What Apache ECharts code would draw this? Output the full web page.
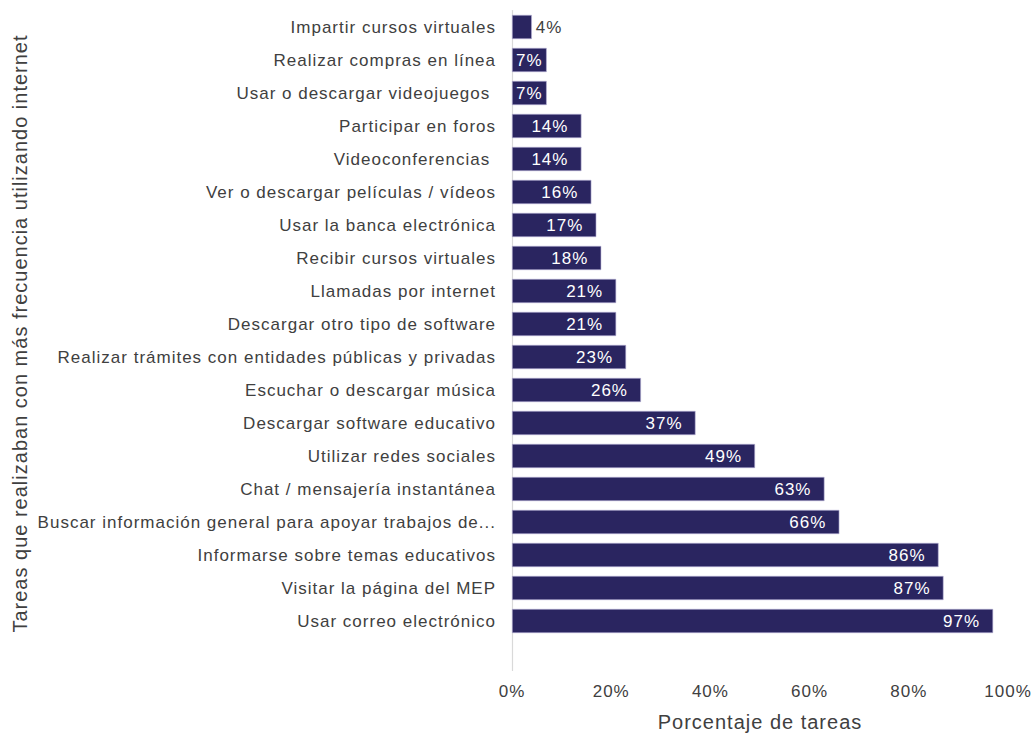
<!DOCTYPE html>
<html>
<head>
<meta charset="utf-8">
<script src="https://cdn.jsdelivr.net/npm/echarts@6/dist/echarts.min.js"></script>
<style>
  html, body { margin: 0; padding: 0; background: #ffffff; }
  #chart { width: 1031px; height: 734px; }
  /* slightly looser tracking for all chart text */
  #chart text { letter-spacing: 1px; }
</style>
</head>
<body>
<div id="chart"></div>
<script>
// Tasks most often done on the internet, top to bottom
const categories = [
  'Impartir cursos virtuales',
  'Realizar compras en línea',
  'Usar o descargar videojuegos ',
  'Participar en foros',
  'Videoconferencias ',
  'Ver o descargar películas / vídeos',
  'Usar la banca electrónica',
  'Recibir cursos virtuales',
  'Llamadas por internet',
  'Descargar otro tipo de software',
  'Realizar trámites con entidades públicas y privadas',
  'Escuchar o descargar música',
  'Descargar software educativo',
  'Utilizar redes sociales',
  'Chat / mensajería instantánea',
  'Buscar información general para apoyar trabajos de clase',
  'Informarse sobre temas educativos',
  'Visitar la página del MEP',
  'Usar correo electrónico'
];

// Percentage of tasks
const values = [4, 7, 7, 14, 14, 16, 17, 18, 21, 21, 23, 26, 37, 49, 63, 66, 86, 87, 97];

const xTicks = [0, 20, 40, 60, 80, 100];

const FONT = '"Liberation Sans", Arial, sans-serif';
const TEXT = '#404040';
const barColor = '#2a2560';

const chart = echarts.init(document.getElementById('chart'), null, { renderer: 'svg' });

// very short bars: label beside the bar; short bars: centred; otherwise right-aligned inside
const seriesData = values.map(function (v) {
  const item = { value: v };
  if (v < 5) {
    item.label = { position: 'right', color: TEXT, distance: 4 };
  } else if (v < 10) {
    item.label = { position: 'inside' };
  }
  return item;
});

chart.setOption({
  animation: false,
  backgroundColor: '#ffffff',
  grid: {
    left: 512, right: 23, top: 10.5, bottom: 63.5,
    containLabel: false,
    outerBoundsMode: 'none'
  },
  xAxis: {
    type: 'value',
    min: xTicks[0],
    max: xTicks[xTicks.length - 1],
    interval: 20,
    axisLine: { show: false },
    axisTick: { show: false },
    splitLine: { show: false },
    axisLabel: {
      formatter: '{value}%',
      color: TEXT,
      fontFamily: FONT,
      fontSize: 17,
      margin: 12
    },
    name: 'Porcentaje de tareas',
    nameLocation: 'middle',
    nameGap: 41,
    nameTextStyle: { color: TEXT, fontFamily: FONT, fontSize: 20 }
  },
  yAxis: {
    type: 'category',
    data: categories,
    inverse: true,
    max: categories.length,
    axisLine: { show: true, lineStyle: { color: '#d9d9d9', width: 1.2 } },
    axisTick: { show: false },
    axisLabel: {
      color: TEXT,
      fontFamily: FONT,
      fontSize: 17,
      margin: 16,
      width: 407,
      overflow: 'truncate',
      ellipsis: '...',
      formatter: function (v) { return v == null ? '' : v; }
    },
    name: 'Tareas que realizaban con más frecuencia utilizando internet',
    nameLocation: 'middle',
    nameGap: 482,
    nameRotate: 90,
    nameTextStyle: { color: TEXT, fontFamily: FONT, fontSize: 20, padding: [0, 0, 0, 14] }
  },
  series: [{
    type: 'bar',
    data: seriesData,
    barCategoryGap: '27%',
    itemStyle: { color: barColor, borderColor: '#b9b4d6', borderWidth: 0.6 },
    label: {
      show: true,
      position: 'insideRight',
      distance: 13,
      color: '#ffffff',
      fontFamily: FONT,
      fontSize: 17,
      formatter: '{c}%'
    }
  }]
});
</script>
</body>
</html>
